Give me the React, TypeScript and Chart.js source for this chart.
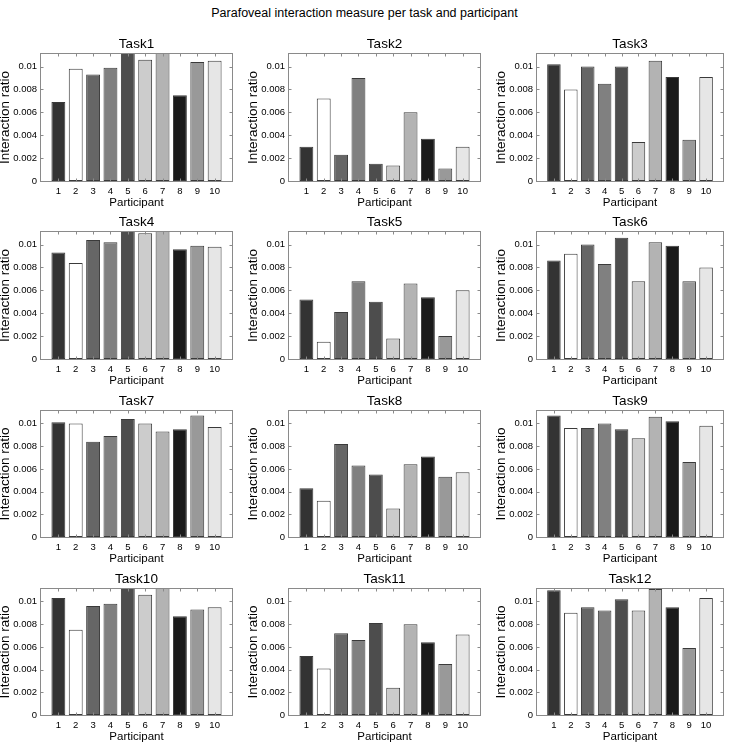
import React, { useEffect, useRef } from 'react';
import { Chart, registerables } from 'chart.js';

Chart.register(...registerables);

const MAIN_TITLE = 'Parafoveal interaction measure per task and participant';
const TASK_NAMES = ['Task1', 'Task2', 'Task3', 'Task4', 'Task5', 'Task6', 'Task7', 'Task8', 'Task9', 'Task10', 'Task11', 'Task12'];
const PARTICIPANTS = [1, 2, 3, 4, 5, 6, 7, 8, 9, 10];
const PARTICIPANT_LABELS = ['1', '2', '3', '4', '5', '6', '7', '8', '9', '10'];
const X_TITLE = 'Participant';
const Y_TITLE = 'Interaction ratio';
const Y_TICKS = [0, 0.002, 0.004, 0.006, 0.008, 0.01];
const Y_TICK_LABELS = ['0', '0.002', '0.004', '0.006', '0.008', '0.01'];
const Y_MAX = 0.0111;
const BAR_COLORS = ['#333333', '#ffffff', '#666666', '#808080', '#4d4d4d', '#cccccc', '#b3b3b3', '#1a1a1a', '#999999', '#e6e6e6'];

const task1 = [0.0069, 0.0098, 0.0093, 0.0099, 0.0115, 0.0106, 0.0115, 0.0075, 0.0104, 0.0105];
const task2 = [0.0030, 0.0072, 0.0023, 0.0090, 0.0015, 0.00135, 0.0060, 0.0037, 0.0011, 0.0030];
const task3 = [0.0102, 0.0080, 0.0100, 0.0085, 0.0100, 0.0034, 0.0105, 0.0091, 0.0036, 0.0091];
const task4 = [0.0093, 0.0084, 0.0104, 0.0102, 0.0115, 0.0110, 0.0115, 0.0096, 0.0099, 0.0098];
const task5 = [0.0052, 0.0015, 0.0041, 0.0068, 0.0050, 0.0018, 0.0066, 0.0054, 0.0020, 0.0060];
const task6 = [0.0086, 0.0092, 0.0100, 0.0083, 0.0106, 0.0068, 0.0102, 0.0099, 0.0068, 0.0080];
const task7 = [0.0101, 0.0100, 0.0084, 0.0089, 0.0104, 0.0100, 0.0093, 0.0095, 0.0107, 0.0097];
const task8 = [0.0043, 0.0032, 0.0082, 0.0063, 0.0055, 0.0025, 0.0064, 0.0071, 0.0053, 0.0057];
const task9 = [0.0107, 0.0096, 0.0096, 0.0100, 0.0095, 0.0087, 0.0106, 0.0102, 0.0066, 0.0098];
const task10 = [0.0103, 0.0075, 0.0096, 0.0098, 0.0115, 0.0106, 0.0115, 0.0087, 0.0093, 0.0095];
const task11 = [0.0052, 0.0041, 0.0072, 0.0066, 0.0081, 0.0024, 0.0080, 0.0064, 0.0045, 0.0071];
const task12 = [0.0110, 0.0090, 0.0095, 0.0092, 0.0102, 0.0092, 0.0111, 0.0095, 0.0059, 0.0103];

const TASK_VALUES = [task1, task2, task3, task4, task5, task6, task7, task8, task9, task10, task11, task12];

// layout (plot-area boxes)
const COL_LEFT = [41, 289, 537];
const COL_WIDTH = [191, 191, 186];
const ROW_TOP = [54, 232, 411, 589];
const ROW_HEIGHT = [127, 127, 126, 126];
const PAD_L = 44;
const PAD_T = 22;
const PAD_B = 30;
const PAD_R = 4;

const FONT_FAMILY = '"Liberation Sans", Arial, Helvetica, sans-serif';

const boxPlugin = {
  id: 'matlabBox',
  afterDatasetsDraw(chart: any) {
    const { ctx, chartArea: a, scales } = chart;
    const xs = scales.x;
    const ys = scales.y;
    ctx.save();
    ctx.strokeStyle = '#8a8a8a';
    ctx.lineWidth = 1;
    const l = Math.round(a.left) - 0.5;
    const r = Math.round(a.right) + 0.5;
    const t = Math.round(a.top) - 0.5;
    const b = Math.round(a.bottom) + 0.5;
    ctx.strokeRect(l, t, r - l, b - t);
    const tl = 3;
    ctx.beginPath();
    PARTICIPANTS.forEach((p) => {
      const px = Math.round(xs.getPixelForValue(p)) + 0.5;
      ctx.moveTo(px, b);
      ctx.lineTo(px, b - tl);
      ctx.moveTo(px, t);
      ctx.lineTo(px, t + tl);
    });
    Y_TICKS.forEach((v) => {
      const py = Math.round(ys.getPixelForValue(v)) + 0.5;
      ctx.moveTo(l, py);
      ctx.lineTo(l + tl, py);
      ctx.moveTo(r, py);
      ctx.lineTo(r - tl, py);
    });
    ctx.stroke();
    ctx.restore();
  },
};

function Subplot({ idx }: { idx: number }) {
  const ref = useRef<HTMLCanvasElement | null>(null);
  const col = idx % 3;
  const row = Math.floor(idx / 3);
  const L = COL_LEFT[col];
  const W = COL_WIDTH[col];
  const T = ROW_TOP[row];
  const H = ROW_HEIGHT[row];
  const cw = W + PAD_L + PAD_R;
  const ch = H + PAD_T + PAD_B;

  useEffect(() => {
    if (!ref.current) return;
    const values = TASK_VALUES[idx];
    const chart = new Chart(ref.current, {
      type: 'bar',
      data: {
        datasets: [
          {
            data: PARTICIPANTS.map((p, i) => ({ x: p, y: values[i] })),
            backgroundColor: BAR_COLORS,
            borderColor: '#3a3a3a',
            borderWidth: 1,
            borderSkipped: false,
            barPercentage: 0.8,
            categoryPercentage: 1,
          } as any,
        ],
      },
      options: {
        responsive: false,
        animation: false,
        events: [],
        layout: { padding: { left: 0, right: PAD_R, top: 0, bottom: 0 } },
        plugins: {
          legend: { display: false },
          tooltip: { enabled: false },
          title: {
            display: true,
            fullSize: false,
            text: TASK_NAMES[idx],
            color: '#000',
            font: { family: FONT_FAMILY, size: 13.5, weight: 'normal', lineHeight: 1.2 },
            padding: { top: 4, bottom: 1.8 },
          },
        },
        scales: {
          x: {
            type: 'linear',
            offset: false,
            min: 0,
            max: PARTICIPANTS.length + 1,
            afterBuildTicks: (s: any) => {
              s.ticks = PARTICIPANTS.map((v) => ({ value: v }));
            },
            afterFit: (s: any) => {
              s.height = PAD_B;
            },
            ticks: {
              autoSkip: false,
              maxRotation: 0,
              padding: 5,
              color: '#000',
              font: { family: FONT_FAMILY, size: 9.5 },
              callback: (v: any) => {
                const i = PARTICIPANTS.indexOf(Number(v));
                return i >= 0 ? PARTICIPANT_LABELS[i] : '';
              },
            },
            grid: { display: false, drawTicks: false, offset: false },
            border: { display: false },
            title: {
              display: true,
              text: X_TITLE,
              color: '#000',
              font: { family: FONT_FAMILY, size: 11.5, lineHeight: 1.2 },
              padding: { top: 0, bottom: 1.1 },
            },
          },
          y: {
            type: 'linear',
            min: 0,
            max: Y_MAX,
            afterBuildTicks: (s: any) => {
              s.ticks = Y_TICKS.map((v) => ({ value: v }));
            },
            afterFit: (s: any) => {
              s.width = PAD_L;
            },
            ticks: {
              padding: 4,
              color: '#000',
              font: { family: FONT_FAMILY, size: 9.5 },
              callback: (v: any) => {
                const i = Y_TICKS.findIndex((t) => Math.abs(t - Number(v)) < 1e-9);
                return i >= 0 ? Y_TICK_LABELS[i] : '';
              },
            },
            grid: { display: false, drawTicks: false },
            border: { display: false },
            title: {
              display: true,
              text: Y_TITLE,
              color: '#000',
              font: { family: FONT_FAMILY, size: 13.5, lineHeight: 1.2 },
              padding: { top: 0, bottom: 0 },
            },
          },
        },
      } as any,
      plugins: [boxPlugin],
    });
    return () => chart.destroy();
  }, [idx]);

  return (
    <canvas
      ref={ref}
      width={cw}
      height={ch}
      style={{ position: 'absolute', left: L - PAD_L, top: T - PAD_T, width: cw, height: ch, display: 'block' }}
    />
  );
}

export default function App() {
  return (
    <div style={{ position: 'absolute', left: 0, top: 0, width: 729, height: 744, background: '#fff', overflow: 'hidden' }}>
      <div
        style={{
          position: 'absolute',
          left: 0,
          top: 5,
          width: 729,
          textAlign: 'center',
          fontFamily: FONT_FAMILY,
          fontSize: 12.5,
          lineHeight: '16px',
          color: '#000',
        }}
      >
        {MAIN_TITLE}
      </div>
      {TASK_NAMES.map((_, i) => (
        <Subplot key={i} idx={i} />
      ))}
    </div>
  );
}
